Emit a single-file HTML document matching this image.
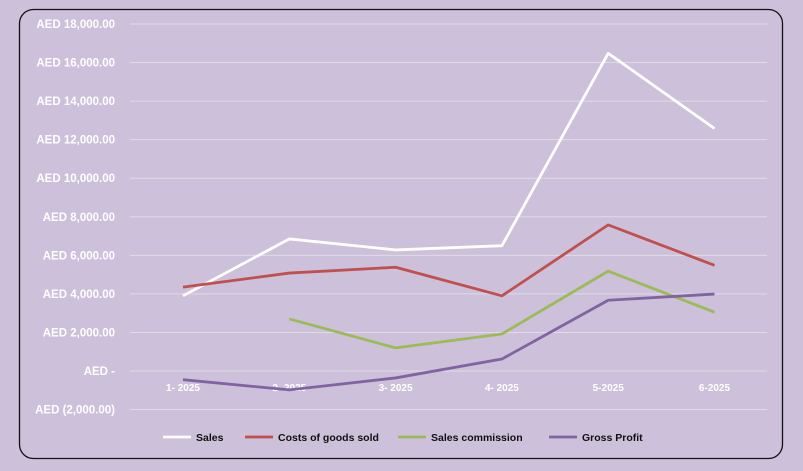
<!DOCTYPE html>
<html><head><meta charset="utf-8"><style>
body{margin:0;background:#cdc0da;width:803px;height:466px;overflow:hidden;font-family:"Liberation Sans",sans-serif}
svg text{font-family:"Liberation Sans",sans-serif;font-weight:bold}
</style></head><body>
<svg id="chart" width="803" height="466" xmlns="http://www.w3.org/2000/svg">
<rect x="19.5" y="9.5" width="763" height="449" rx="14" fill="#cdc0da" stroke="#111" stroke-width="1.3"/>
<g id="grid"></g><g id="yl"></g><g id="xl"></g><g id="series"></g><g id="legend"></g>
</svg>
<script>
const categories=["1- 2025","2- 2025","3- 2025","4- 2025","5-2025","6-2025"];
const sales=[3900,6850,6280,6500,16480,12580];
const cogs=[4350,5080,5380,3900,7580,5480];
const commission=[null,2700,1200,1920,5180,3050];
const grossProfit=[-450,-980,-360,620,3670,3990];
const yTicks=[18000,16000,14000,12000,10000,8000,6000,4000,2000,0,-2000];
const yTickLabels=["AED 18,000.00","AED 16,000.00","AED 14,000.00","AED 12,000.00","AED 10,000.00","AED 8,000.00","AED 6,000.00","AED 4,000.00","AED 2,000.00","AED -","AED (2,000.00)"];
const seriesNames=["Sales","Costs of goods sold","Sales commission","Gross Profit"];
const colors=["#ffffff","#c0504d","#9bbb59","#8064a2"];
const NS="http://www.w3.org/2000/svg";
const y=v=>371-v*(347/18000);
const x=i=>183+i*106.3;
function mk(t,a,p){const e=document.createElementNS(NS,t);for(const k in a)e.setAttribute(k,a[k]);p.appendChild(e);return e;}
const G=document.getElementById('grid'),YL=document.getElementById('yl'),XL=document.getElementById('xl'),S=document.getElementById('series'),L=document.getElementById('legend');
yTicks.forEach((v,i)=>{
 const l=mk('line',{x1:130,x2:767,y1:y(v),y2:y(v),stroke:'#e0dbe4','stroke-width':1},G);
 
 
 const t=mk('text',{x:115,y:y(v)+4,'text-anchor':'end','font-size':11.5,fill:'#fff'},YL);
 t.textContent=yTickLabels[i];
 
 
});
categories.forEach((c,i)=>{
 const t=mk('text',{x:x(i),y:391,'text-anchor':'middle','font-size':10,fill:'#fff'},XL);
 t.textContent=c;
 
 
});
[sales,cogs,commission,grossProfit].forEach((arr,si)=>{
 let d='';let pen=false;
 arr.forEach((v,i)=>{if(v===null){pen=false;return;}d+=(pen?'L':'M')+x(i)+' '+y(v)+' ';pen=true;});
 const p=mk('path',{d:d,fill:'none',stroke:colors[si],'stroke-width':2.8,'stroke-linejoin':'round'},S);
 
 
});
const lx=[163,245,398,549];
seriesNames.forEach((n,i)=>{
 const l=mk('line',{x1:lx[i],x2:lx[i]+28,y1:437,y2:437,stroke:colors[i],'stroke-width':2.8},L);
 
 
 const t=mk('text',{x:lx[i]+33,y:441,'font-size':10.5,fill:'#111'},L);
 t.textContent=n;
 
 
});
</script>
</body></html>
